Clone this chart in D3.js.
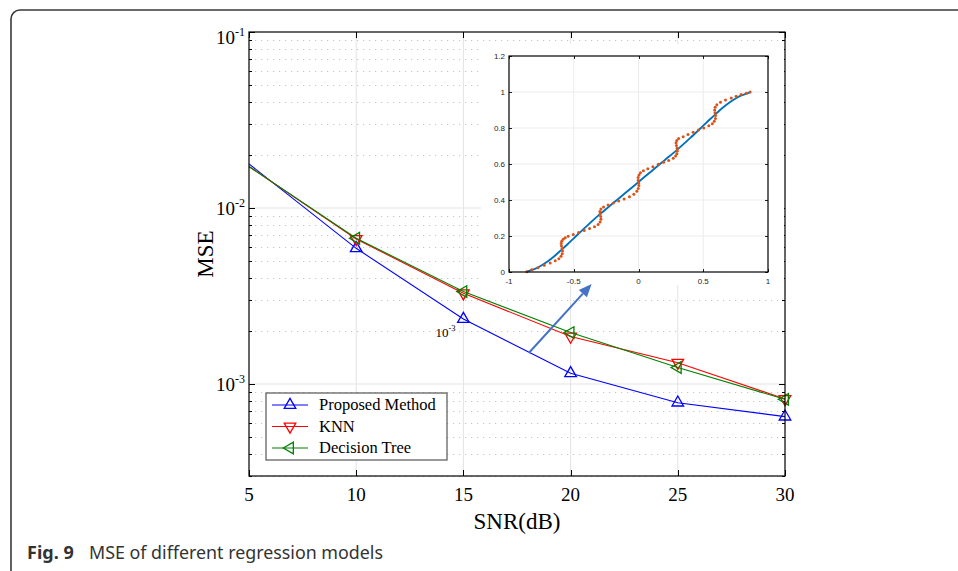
<!DOCTYPE html>
<html lang="en">
<head>
<meta charset="utf-8">
<title>MSE of different regression models</title>
<script src="https://cdnjs.cloudflare.com/ajax/libs/d3/7.8.5/d3.min.js"></script>
<style>
  body { margin: 0; background: #fff; }
  svg { display: block; }
  .serif { font-family: "Liberation Serif", "Times New Roman", serif; fill: #000; }
  .inset-lbl { font-family: "Liberation Sans", Arial, sans-serif; font-size: 8px; fill: #262626; }
  .tick line { shape-rendering: crispEdges; }
</style>
</head>
<body>
<svg width="958" height="571"></svg>
<script>
// ---- main chart values ----
var snr = [5, 10, 15, 20, 25, 30];
var proposed = [0.0178, 0.0059, 0.00234, 0.00115, 0.000783, 0.000652];
var knn      = [0.0172, 0.00667, 0.00328, 0.00186, 0.00132, 0.000822];
var dtree    = [0.0172, 0.00673, 0.00335, 0.00196, 0.00124, 0.000818];
var seriesNames = ["Proposed Method", "KNN", "Decision Tree"];
var xTicks = [5, 10, 15, 20, 25, 30];
var yDecades = [1e-3, 1e-2, 1e-1];
var yExp = ["-3", "-2", "-1"];

// ---- inset values ----
var insetCurve = [[-0.866,0.0],[-0.83,0.01],[-0.8,0.018],[-0.75,0.036],[-0.7,0.06],[-0.65,0.088],
  [-0.6,0.12],[-0.55,0.153],[-0.5,0.187],[-0.4,0.255],[-0.3,0.32],[-0.2,0.38],[-0.1,0.44],[0,0.5],
  [0.1,0.56],[0.2,0.62],[0.3,0.68],[0.4,0.745],[0.5,0.813],[0.55,0.847],[0.6,0.88],[0.65,0.912],
  [0.7,0.94],[0.75,0.964],[0.8,0.982],[0.83,0.99],[0.866,1.0]];
var insetDots = [
  [-0.862,0.002],[-0.824,0.012],[-0.777,0.024],[-0.728,0.037],[-0.682,0.050],[-0.643,0.062],[-0.615,0.074],
  [-0.598,0.087],[-0.589,0.101],[-0.587,0.116],[-0.590,0.130],[-0.595,0.144],[-0.597,0.158],[-0.593,0.171],[-0.582,0.182],[-0.566,0.190],
  [-0.543,0.198],[-0.504,0.209],[-0.463,0.219],[-0.419,0.230],[-0.378,0.241],[-0.340,0.252],[-0.312,0.264],
  [-0.297,0.278],[-0.290,0.293],[-0.292,0.308],[-0.297,0.322],[-0.298,0.336],[-0.290,0.350],[-0.270,0.361],
  [-0.235,0.372],[-0.194,0.383],[-0.153,0.394],[-0.111,0.406],[-0.070,0.418],[-0.036,0.432],[-0.013,0.448],
  [-0.002,0.464],[0.003,0.480],[0.002,0.495],[-0.002,0.510],[-0.003,0.525],[0.004,0.539],
  [0.015,0.551],[0.038,0.562],[0.072,0.573],[0.111,0.585],[0.153,0.598],[0.194,0.610],[0.233,0.620],[0.268,0.632],
  [0.286,0.644],[0.296,0.657],[0.300,0.672],[0.298,0.688],[0.293,0.703],[0.290,0.718],[0.296,0.730],[0.310,0.741],
  [0.345,0.752],[0.382,0.764],[0.422,0.776],[0.463,0.789],[0.504,0.800],[0.543,0.812],[0.570,0.824],
  [0.585,0.838],[0.594,0.853],[0.595,0.869],[0.591,0.885],[0.588,0.900],[0.592,0.915],[0.605,0.929],
  [0.633,0.943],[0.672,0.955],[0.716,0.967],[0.754,0.977],[0.793,0.986],[0.832,0.993],[0.862,1.0]];
var insetXTicks = [-1, -0.5, 0, 0.5, 1];
var insetYTicks = [0, 0.2, 0.4, 0.6, 0.8, 1, 1.2];

// annotation (data coords of the main axes)
var arrowFrom = [18.05, 1.5e-3], arrowTo = [20.98, 3.7e-3];
var noteAt = [13.7, 1.86e-3];

var svg = d3.select("svg");

// outer frame of the figure panel
svg.append("rect").attr("x", 11).attr("y", 10).attr("width", 1100).attr("height", 700)
  .attr("rx", 9).attr("fill", "none").attr("stroke", "#3a3a3a").attr("stroke-width", 1.6);

var L = 249, R = 785, T = 32, B = 476;
var x = d3.scaleLinear().domain([5, 30]).range([L, R]);
var y = d3.scaleLog().domain([3e-4, 1e-1]).range([B, T]);

var minor = [];
[1e-4, 1e-3, 1e-2].forEach(function(d) {
  for (var m = 2; m <= 9; m++) { var v = m * d; if (v >= 3e-4 && v < 1e-1) minor.push(v); }
});

var g = svg.append("g");
g.append("rect").attr("x", L).attr("y", T).attr("width", R - L).attr("height", B - T).attr("fill", "#fff");

// grid
g.selectAll(".vgrid").data(xTicks.slice(1, -1)).enter().append("line")
  .attr("x1", function(d) { return x(d); }).attr("x2", function(d) { return x(d); })
  .attr("y1", T).attr("y2", B).attr("stroke", "#e3e3e3").attr("stroke-width", 1);
g.selectAll(".hgrid").data([1e-3, 1e-2]).enter().append("line")
  .attr("x1", L).attr("x2", R)
  .attr("y1", function(d) { return y(d); }).attr("y2", function(d) { return y(d); })
  .attr("stroke", "#e3e3e3").attr("stroke-width", 1.2);
g.selectAll(".mgrid").data(minor).enter().append("line")
  .attr("x1", L).attr("x2", R)
  .attr("y1", function(d) { return Math.round(y(d)) + 0.5; }).attr("y2", function(d) { return Math.round(y(d)) + 0.5; })
  .attr("stroke", "#c4c4c4").attr("stroke-width", 1).attr("stroke-dasharray", "1.2,4.8");

// ticks on all four sides, pointing inwards
function ticks(axis, tx, ty, vals, size) {
  var a = g.append("g").attr("transform", "translate(" + tx + "," + ty + ")")
    .call(axis.tickValues(vals).tickSizeInner(-size).tickSizeOuter(0).tickFormat(""));
  a.select(".domain").remove();
  a.selectAll("line").attr("stroke", "#000");
}
ticks(d3.axisBottom(x), 0, B, xTicks, 6);
ticks(d3.axisTop(x), 0, T, xTicks, 6);
ticks(d3.axisLeft(y), L, 0, yDecades, 6);
ticks(d3.axisRight(y), R, 0, yDecades, 6);
ticks(d3.axisLeft(y), L, 0, minor, 3);
ticks(d3.axisRight(y), R, 0, minor, 3);

// tick labels
g.selectAll(".xl").data(xTicks).enter().append("text").attr("class", "serif")
  .attr("x", function(d) { return x(d); }).attr("y", 501).attr("text-anchor", "middle")
  .attr("font-size", 19).text(function(d) { return d; });
yDecades.forEach(function(d, i) {
  var t = g.append("text").attr("class", "serif").attr("font-size", 19).attr("text-anchor", "end")
    .attr("x", 245).attr("y", Math.max(y(d) + 7, T + 12));
  t.append("tspan").text("10");
  t.append("tspan").attr("font-size", 12).attr("dy", -8).text(yExp[i]);
});

// series
var data = [proposed, knn, dtree].map(function(vals) {
  return vals.map(function(v, i) { return [snr[i], v]; });
});
var colors = ["#0000ff", "#ff0000", "#008000"];
var rot = [0, 180, -90];
var line = d3.line().x(function(d) { return x(d[0]); }).y(function(d) { return y(d[1]); });
var tri = d3.symbol().type(d3.symbolTriangle).size(58);

data.forEach(function(s, k) {
  g.append("path").datum(s).attr("d", line).attr("fill", "none")
    .attr("stroke", colors[k]).attr("stroke-width", 1.1);
  g.selectAll(".m" + k).data(s.filter(function(d) { return d[0] > 5; })).enter().append("path")
    .attr("d", tri).attr("fill", "none").attr("stroke", colors[k]).attr("stroke-width", 1.3)
    .attr("transform", function(d) { return "translate(" + x(d[0]) + "," + y(d[1]) + ") rotate(" + rot[k] + ")"; });
});

// frame of axes
g.append("rect").attr("x", L).attr("y", T).attr("width", R - L).attr("height", B - T)
  .attr("fill", "none").attr("stroke", "#000").attr("stroke-width", 1.2);

// axis titles
svg.append("text").attr("class", "serif").attr("font-size", 23).attr("text-anchor", "middle")
  .attr("x", (L + R) / 2).attr("y", 529).text("SNR(dB)");
svg.append("text").attr("class", "serif").attr("font-size", 23).attr("text-anchor", "middle")
  .attr("transform", "translate(213," + 254 + ") rotate(-90)").text("MSE");

// legend
var lg = svg.append("g");
lg.append("rect").attr("x", 266).attr("y", 393).attr("width", 181).attr("height", 67)
  .attr("fill", "#fff").attr("stroke", "#555").attr("stroke-width", 1.2);
var legY = [405, 426.5, 448];
seriesNames.forEach(function(n, k) {
  lg.append("line").attr("x1", 272).attr("x2", 308).attr("y1", legY[k]).attr("y2", legY[k])
    .attr("stroke", colors[k]).attr("stroke-width", 1.2);
  lg.append("path").attr("d", tri).attr("fill", "none").attr("stroke", colors[k]).attr("stroke-width", 1.3)
    .attr("transform", "translate(290," + legY[k] + ") rotate(" + rot[k] + ")");
  lg.append("text").attr("class", "serif").attr("font-size", 16.5).attr("x", 319).attr("y", legY[k] + 5).text(n);
});

// inset
var ix = d3.scaleLinear().domain([-1, 1]).range([509, 768]);
var iy = d3.scaleLinear().domain([0, 1.2]).range([272, 56]);
var ig = svg.append("g");
ig.append("rect").attr("x", 481).attr("y", 44).attr("width", 303).attr("height", 241).attr("fill", "#fff");
ig.selectAll(".ivg").data(insetXTicks.slice(1, -1)).enter().append("line")
  .attr("x1", function(d) { return ix(d); }).attr("x2", function(d) { return ix(d); })
  .attr("y1", iy(1.2)).attr("y2", iy(0)).attr("stroke", "#ececec");
ig.selectAll(".ihg").data(insetYTicks.slice(1, -1)).enter().append("line")
  .attr("y1", function(d) { return iy(d); }).attr("y2", function(d) { return iy(d); })
  .attr("x1", ix(-1)).attr("x2", ix(1)).attr("stroke", "#ececec");
function iticks(axis, tx, ty, vals) {
  var a = ig.append("g").attr("transform", "translate(" + tx + "," + ty + ")")
    .call(axis.tickValues(vals).tickSizeInner(-3).tickSizeOuter(0).tickFormat(""));
  a.select(".domain").remove();
  a.selectAll("line").attr("stroke", "#222");
}
iticks(d3.axisBottom(ix), 0, iy(0), insetXTicks);
iticks(d3.axisTop(ix), 0, iy(1.2), insetXTicks);
iticks(d3.axisLeft(iy), ix(-1), 0, insetYTicks);
iticks(d3.axisRight(iy), ix(1), 0, insetYTicks);
ig.selectAll(".ixl").data(insetXTicks).enter().append("text").attr("class", "inset-lbl")
  .attr("x", function(d) { return ix(d); }).attr("y", 284).attr("text-anchor", "middle")
  .text(function(d) { return d; });
ig.selectAll(".iyl").data(insetYTicks).enter().append("text").attr("class", "inset-lbl")
  .attr("x", 505).attr("y", function(d) { return iy(d) + 2.9; }).attr("text-anchor", "end")
  .text(function(d) { return d; });
ig.append("path").datum(insetCurve)
  .attr("d", d3.line().x(function(d) { return ix(d[0]); }).y(function(d) { return iy(d[1]); }).curve(d3.curveCatmullRom))
  .attr("fill", "none").attr("stroke", "#0072bd").attr("stroke-width", 1.9);
ig.selectAll(".dot").data(insetDots).enter().append("circle")
  .attr("cx", function(d) { return ix(d[0]); }).attr("cy", function(d) { return iy(d[1]); })
  .attr("r", 1.5).attr("fill", "#d95319");
ig.append("rect").attr("x", ix(-1)).attr("y", iy(1.2)).attr("width", ix(1) - ix(-1)).attr("height", iy(0) - iy(1.2))
  .attr("fill", "none").attr("stroke", "#000").attr("stroke-width", 1.2);

// arrow + note
var ax0 = x(arrowFrom[0]), ay0 = y(arrowFrom[1]), ax1 = x(arrowTo[0]), ay1 = y(arrowTo[1]);
var ang = Math.atan2(ay1 - ay0, ax1 - ax0), hl = 13, hw = 5.5;
var bx = ax1 - hl * Math.cos(ang), by = ay1 - hl * Math.sin(ang);
svg.append("line").attr("x1", ax0).attr("y1", ay0).attr("x2", bx).attr("y2", by)
  .attr("stroke", "#4472c4").attr("stroke-width", 2);
svg.append("path").attr("fill", "#4472c4")
  .attr("d", "M" + ax1 + "," + ay1 +
    "L" + (bx + hw * Math.sin(ang)) + "," + (by - hw * Math.cos(ang)) +
    "L" + (bx - hw * Math.sin(ang)) + "," + (by + hw * Math.cos(ang)) + "Z");
var nt = svg.append("text").attr("class", "serif").attr("font-size", 13)
  .attr("x", x(noteAt[0])).attr("y", y(noteAt[1]));
nt.append("tspan").text("10");
nt.append("tspan").attr("font-size", 8.5).attr("dy", -6).text("-3");

// caption
var cap = svg.append("text").attr("x", 27).attr("y", 559)
  .attr("font-family", "'Noto Sans', 'Open Sans', sans-serif").attr("font-size", 18).attr("fill", "#333");
cap.append("tspan").attr("font-weight", "bold").text("Fig. 9");
cap.append("tspan").attr("x", 89).attr("textLength", 294).attr("lengthAdjust", "spacingAndGlyphs")
  .text("MSE of different regression models");
</script>
</body>
</html>
